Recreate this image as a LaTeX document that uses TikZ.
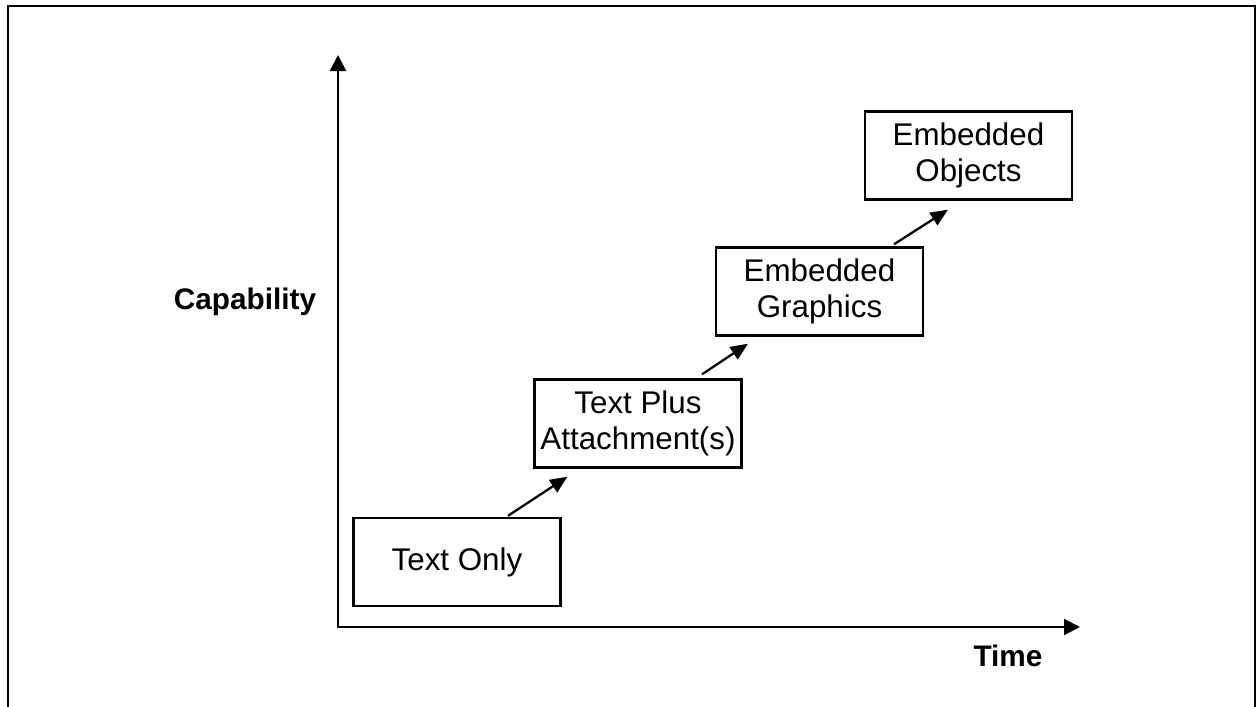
\documentclass[tikz,border=0pt]{standalone}
\usepackage{fontspec}
\setmainfont{Liberation Sans}
\usetikzlibrary{arrows.meta,positioning,calc}

\begin{document}
\begin{tikzpicture}[x=0.75pt,y=-0.75pt,semithick,
    stage/.style={draw,line width=1.8pt,rectangle,minimum width=155pt,minimum height=66pt,
      inner sep=1pt,align=center,font=\fontsize{23.5}{26.5}\selectfont},
    axislabel/.style={font=\fontsize{22.3}{26}\selectfont\bfseries},
    axisline/.style={line width=1.7pt,{Triangle[length=12pt,width=12pt]}-{Triangle[length=12pt,width=12pt]}},
    steparrow/.style={line width=1.7pt,-{Triangle[length=13pt,width=11pt]}}]
        \useasboundingbox (0,0) rectangle (1258,707);
        \draw[line width=1.7pt] (8,712) -- (8,6) -- (1255,6) -- (1255,712);
        \coordinate (origin) at (338,627);
        \coordinate (ytip) at (338,55);
        \coordinate (xtip) at (1080,627);
        \draw[axisline] (ytip) -- (origin) -- (xtip);
        \node (cap) at (245,302) [axislabel] {Capability};
        \node (time) at (1008,656) [axislabel] {Time};
        \node (txt) at (457,562) [stage] {Text Only};
        \node (att) at (638,423.5) [stage] {Text Plus\\Attachment(s)};
        \node (gra) at (819.5,291.5) [stage] {Embedded\\Graphics};
        \node (obj) at (968.5,155.5) [stage] {Embedded\\Objects};
        \draw[steparrow] ([shift={(51,-1)}]txt.north) -- ([shift={(34,8)}]att.south west);
        \draw[steparrow] ([shift={(64,-4)}]att.north) -- ([shift={(33,7)}]gra.south west);
        \draw[steparrow] ([shift={(74.5,-2)}]gra.north) -- ([shift={(84,9)}]obj.south west);
      \end{tikzpicture}
\end{document}
